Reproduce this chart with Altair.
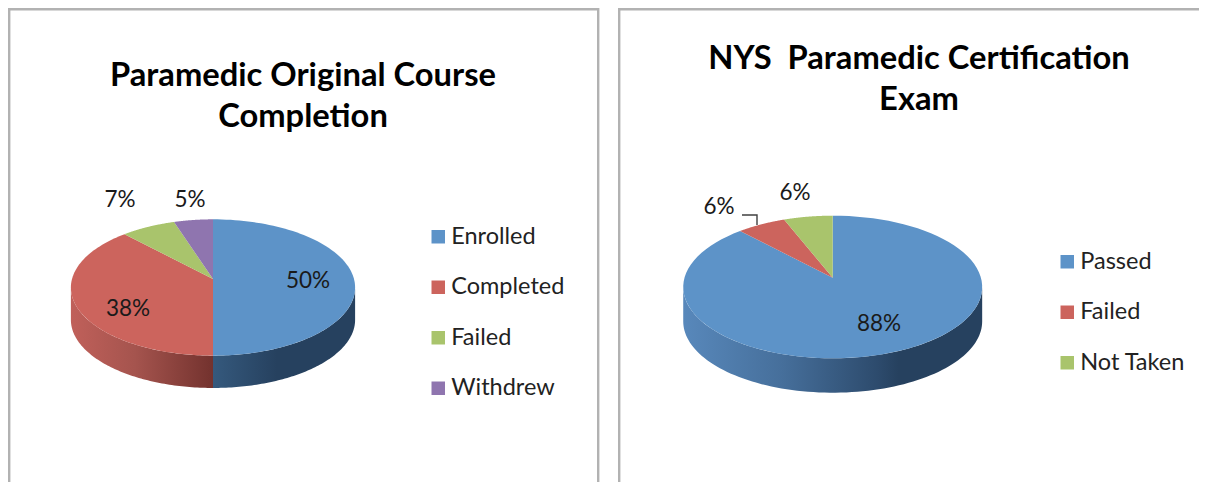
import numpy as np
import pandas as pd
import altair as alt

FONT = "Lato"
# ---- data
left_labels = ["Enrolled", "Completed", "Failed", "Withdrew"]
left_values = [50, 38, 7, 5]
left_colors = ["#5D93C8", "#CC645D", "#A9C46C", "#8F75AF"]
right_labels = ["Passed", "Failed", "Not Taken"]
right_values = [88, 6, 6]
right_colors = ["#5D93C8", "#CC645D", "#A9C46C"]
left_title = ["Paramedic Original Course", "Completion"]
right_title = ["NYS\u00a0\u00a0Paramedic Certification", "Exam"]
# data-label text and where it sits (page pixels)
left_text_x = [308, 128, 120, 190]
left_text_y = [281, 309, 200, 200]
right_text_x = [879, 719, 795]
right_text_y = [324, 207, 193]
# leader line of the right chart's "Failed" label
leader_x = [742, 757, 757]
leader_y = [215, 215, 225]

BOTTOM = 482  # last page row the plot reaches
RIGHT = 1199


def rim(a, cx, cy, A, B, k):
    """Perspective view of the pie's circular rim; a = clockwise angle from 12 o'clock."""
    w = 1 - k * np.cos(a)
    return cx + A * np.sin(a) / w, cy - B * np.cos(a) / w


def slices(labels, values, geom):
    rows = []
    cum = np.cumsum([0] + values) / sum(values) * 2 * np.pi
    for name, a0, a1 in zip(labels, cum[:-1], cum[1:]):
        rows.append(dict(name=name, i=0, x=geom["cx"], y=geom["cy"]))
        for j, a in enumerate(np.linspace(a0, a1, 90)):
            x, y = rim(a, geom["cx"], geom["cy"], geom["A"], geom["B"], geom["k"])
            rows.append(dict(name=name, i=j + 1, x=x, y=y))
    return pd.DataFrame(rows)


def wall(a0, a1, geom):
    lo = np.arccos(geom["k"])
    hi = 2 * np.pi - lo
    a0, a1 = max(a0, lo), min(a1, hi)
    if a1 <= a0:
        return None
    t = np.linspace(a0, a1, 90)
    x, y = rim(t, geom["cx"], geom["cy"], geom["A"], geom["B"], geom["k"])
    xs = np.r_[x, x[::-1]]
    ys = np.r_[y, y[::-1] + geom["depth"]]
    return pd.DataFrame(dict(i=np.arange(len(xs)), x=xs, y=ys))


def grad(stops):
    return alt.Gradient(
        gradient="linear", x1=0, x2=1, y1=0, y2=0,
        stops=[alt.GradientStop(offset=o, color=c) for o, c in stops],
    )


def panel(labels, values, colors, title, title_offset, title_dx, geom, tx, ty,
          px0, pw, legend_x, legend_y, wall_grads, borders, extra=None):
    X = alt.X("x:Q", axis=None, scale=alt.Scale(domain=[px0, px0 + pw], zero=False, nice=False))
    Y = alt.Y("y:Q", axis=None, scale=alt.Scale(domain=[8, BOTTOM], reverse=True, zero=False, nice=False))
    layers = []
    # panel frame, as thin filled bars
    frame = pd.DataFrame(borders, columns=["x", "y", "x2", "y2"])
    layers.append(
        alt.Chart(frame).mark_rect(color="#B2B2B2", strokeWidth=0)
        .encode(x=X, y=Y, x2="x2:Q", y2="y2:Q")
    )
    # side wall
    cum = np.cumsum([0] + values) / sum(values) * 2 * np.pi
    for a0, a1, g in zip(cum[:-1], cum[1:], wall_grads):
        w = wall(a0, a1, geom)
        if w is None or g is None:
            continue
        layers.append(
            alt.Chart(w).mark_line(fill=grad(g), strokeWidth=0, stroke="#000000")
            .encode(x=X, y=Y, order="i:Q")
        )
    # top surface
    layers.append(
        alt.Chart(slices(labels, values, geom))
        .mark_line(strokeWidth=0, stroke="#000000")
        .encode(
            x=X, y=Y, order="i:Q",
            fill=alt.Fill(
                "name:N",
                scale=alt.Scale(domain=labels, range=colors),
                legend=alt.Legend(
                    title=None, orient="none", legendX=legend_x, legendY=legend_y,
                    symbolType="square", symbolSize=182, symbolStrokeWidth=0,
                    labelFont=FONT, labelFontSize=23.5, labelColor="#222222",
                    labelOffset=1.25, rowPadding=25.5, padding=0, values=labels,
                ),
            ),
        )
    )
    if extra is not None:
        layers.append(extra(X, Y))
    # data labels
    pct = [f"{v}%" for v in values]
    layers.append(
        alt.Chart(pd.DataFrame(dict(x=tx, y=ty, t=pct)))
        .mark_text(font=FONT, fontSize=22.5, color="#1A1A1A", baseline="middle", align="center")
        .encode(x=X, y=Y, text="t:N")
    )
    return alt.layer(*layers).properties(
        width=pw, height=BOTTOM - 8,
        title=alt.TitleParams(
            text=title, font=FONT, fontSize=32.7, fontWeight="bold", color="#000000",
            anchor="middle", offset=title_offset, dx=title_dx, lineHeight=41,
        ),
    )


left_geom = dict(cx=213, cy=279, A=141, B=67.1, k=-0.1246, depth=32.3)
right_geom = dict(cx=832.7, cy=277.7, A=148.2, B=70.1, k=-0.1304, depth=34.4)


def leader(X, Y):
    return (
        alt.Chart(pd.DataFrame(dict(x=leader_x, y=leader_y, g=[0, 1, 2])))
        .mark_line(color="#404040", strokeWidth=1.4)
        .encode(x=X, y=Y, order="g:Q")
    )


left = panel(
    left_labels, left_values, left_colors, left_title, -126, -5, left_geom,
    left_text_x, left_text_y, 8, 600, 418.5, 217,
    [
        [(0, "#35597D"), (0.45, "#26415F"), (1, "#26415F")],
        [(0, "#C0605A"), (0.45, "#A5544E"), (1, "#73322E")],
        None, None,
    ],
    [(8, 8, 597, 10.4), (8, 8, 10.4, BOTTOM), (597, 8, 599.4, BOTTOM)],
)
right = panel(
    right_labels, right_values, right_colors, right_title, -108.5, 10.5, right_geom,
    right_text_x, right_text_y, 618, RIGHT - 618, 437.5, 242,
    [[(0, "#5888BB"), (0.33, "#466F9B"), (0.65, "#2D4B6D"), (0.72, "#26415F"), (1, "#26415F")], None, None],
    [(618, 8, RIGHT, 10.4), (618, 8, 620.4, BOTTOM)],
    extra=leader,
)

chart = (
    alt.hconcat(left, right, spacing=10)
    .resolve_scale(fill="independent")
    .properties(padding={"left": 0, "top": 0, "right": 0, "bottom": 0}, background="#FFFFFF")
    .configure_view(strokeWidth=0)
)
chart.save("out.html", embed_options={"renderer": "svg", "actions": False})
